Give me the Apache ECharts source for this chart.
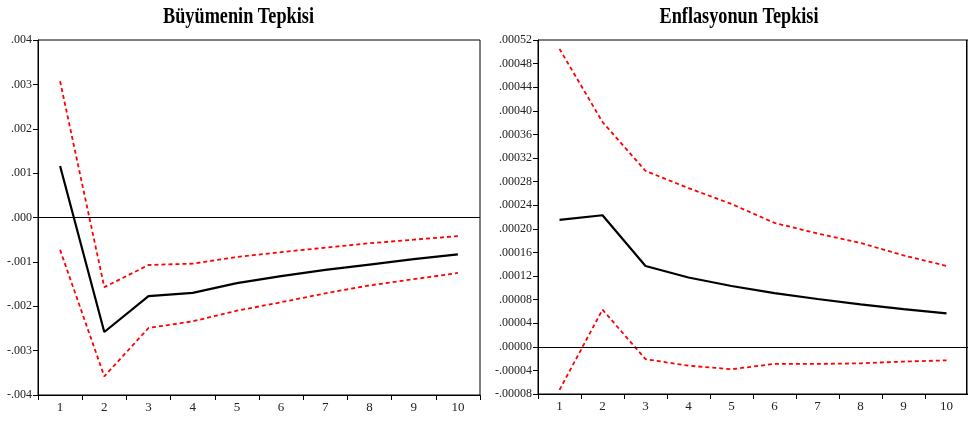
<!DOCTYPE html>
<html>
<head>
<meta charset="utf-8">
<script src="https://cdn.jsdelivr.net/npm/echarts@6/dist/echarts.min.js"></script>
<style>
html,body{margin:0;padding:0;background:#fff;}
#c{width:968px;height:421px;}
</style>
</head>
<body>
<div id="c"></div>
<script>
var periods = ['1','2','3','4','5','6','7','8','9','10'];

var growthTitle = 'Büyümenin Tepkisi';
var growthResp  = [0.00116, -0.00258, -0.00177, -0.00170, -0.00148, -0.00132, -0.00118, -0.00106, -0.00094, -0.00083];
var growthUpper = [0.00307, -0.00157, -0.00107, -0.00104, -0.00089, -0.00078, -0.00068, -0.00058, -0.00050, -0.00042];
var growthLower = [-0.00073, -0.00358, -0.00249, -0.00234, -0.00210, -0.00191, -0.00171, -0.00153, -0.00139, -0.00125];

var inflTitle = 'Enflasyonun Tepkisi';
var inflResp  = [0.000215, 0.000223, 0.000137, 0.0001175, 0.000103, 0.000091, 0.000081, 0.000072, 0.000064, 0.0000565];
var inflUpper = [0.000505, 0.000381, 0.000298, 0.000269, 0.000242, 0.000210, 0.000192, 0.000176, 0.000155, 0.000137];
var inflLower = [-0.000073, 0.000063, -0.000021, -0.000032, -0.000038, -0.000029, -0.000029, -0.000028, -0.000025, -0.000023];

function fmt(dec){
  return function(v){
    var s = (Math.round(v*Math.pow(10,dec))/Math.pow(10,dec)).toFixed(dec);
    return s.replace('0.', '.');
  };
}

var font = 'Liberation Serif';
var labelColor = '#222';

function xAxis(gi){
  return {
    type:'category', gridIndex:gi, data:periods, boundaryGap:true, position:'bottom',
    axisLine:{show:true, onZero:false, lineStyle:{color:'#000', width:1}},
    axisTick:{show:true, inside:false, length:5, lineStyle:{color:'#000'}},
    axisLabel:{fontFamily:font, fontSize:13, color:labelColor, margin:6},
    splitLine:{show:false}
  };
}
function yAxis(gi, min, max, interval, dec){
  return {
    type:'value', gridIndex:gi, min:min, max:max, interval:interval, position:'left',
    axisLine:{show:true, onZero:false, lineStyle:{color:'#000', width:1}},
    axisTick:{show:true, inside:false, length:5, lineStyle:{color:'#000'}},
    axisLabel:{fontFamily:font, fontSize:12, color:labelColor, margin:6, formatter:fmt(dec)},
    splitLine:{show:false}
  };
}
function mainSeries(gi, data){
  return {
    type:'line', xAxisIndex:gi, yAxisIndex:gi, data:data, symbol:'none',
    lineStyle:{color:'#000', width:2.2}, z:3, silent:true,
    markLine:{silent:true, symbol:'none', label:{show:false},
      lineStyle:{color:'#000', width:1, type:'solid'}, data:[{yAxis:0}]}
  };
}
function bandSeries(gi, data){
  return {
    type:'line', xAxisIndex:gi, yAxisIndex:gi, data:data, symbol:'none',
    lineStyle:{color:'#ff0000', width:1.8, type:[4,3]}, z:2, silent:true
  };
}
function titleText(txt, cx){
  return {type:'text', x:cx, y:4.5, scaleX:0.76, scaleY:1, silent:true,
    style:{text:txt, fill:'#000', font:'bold 24px "Liberation Serif"', textAlign:'center', verticalAlign:'top'}};
}

var chart = echarts.init(document.getElementById('c'), null, {renderer:'canvas'});
chart.setOption({
  animation:false,
  backgroundColor:'#fff',
  grid:[
    {left:38, right:488, top:40, bottom:26, show:true, borderColor:'#000', borderWidth:1, backgroundColor:'transparent'},
    {left:538, right:-10, top:40, bottom:27, show:true, borderColor:'#000', borderWidth:1, backgroundColor:'transparent'}
  ],
  xAxis:[xAxis(0), xAxis(1)],
  yAxis:[yAxis(0,-0.004,0.004,0.001,3), yAxis(1,-0.00008,0.00052,0.00004,5)],
  graphic:[
    titleText(growthTitle, 238.5),
    titleText(inflTitle, 739),
    {type:'line', shape:{x1:966.5, y1:40, x2:966.5, y2:394}, style:{stroke:'#000', lineWidth:1}, silent:true}
  ],
  series:[
    mainSeries(0, growthResp), bandSeries(0, growthUpper), bandSeries(0, growthLower),
    mainSeries(1, inflResp), bandSeries(1, inflUpper), bandSeries(1, inflLower)
  ]
});
</script>
</body>
</html>
